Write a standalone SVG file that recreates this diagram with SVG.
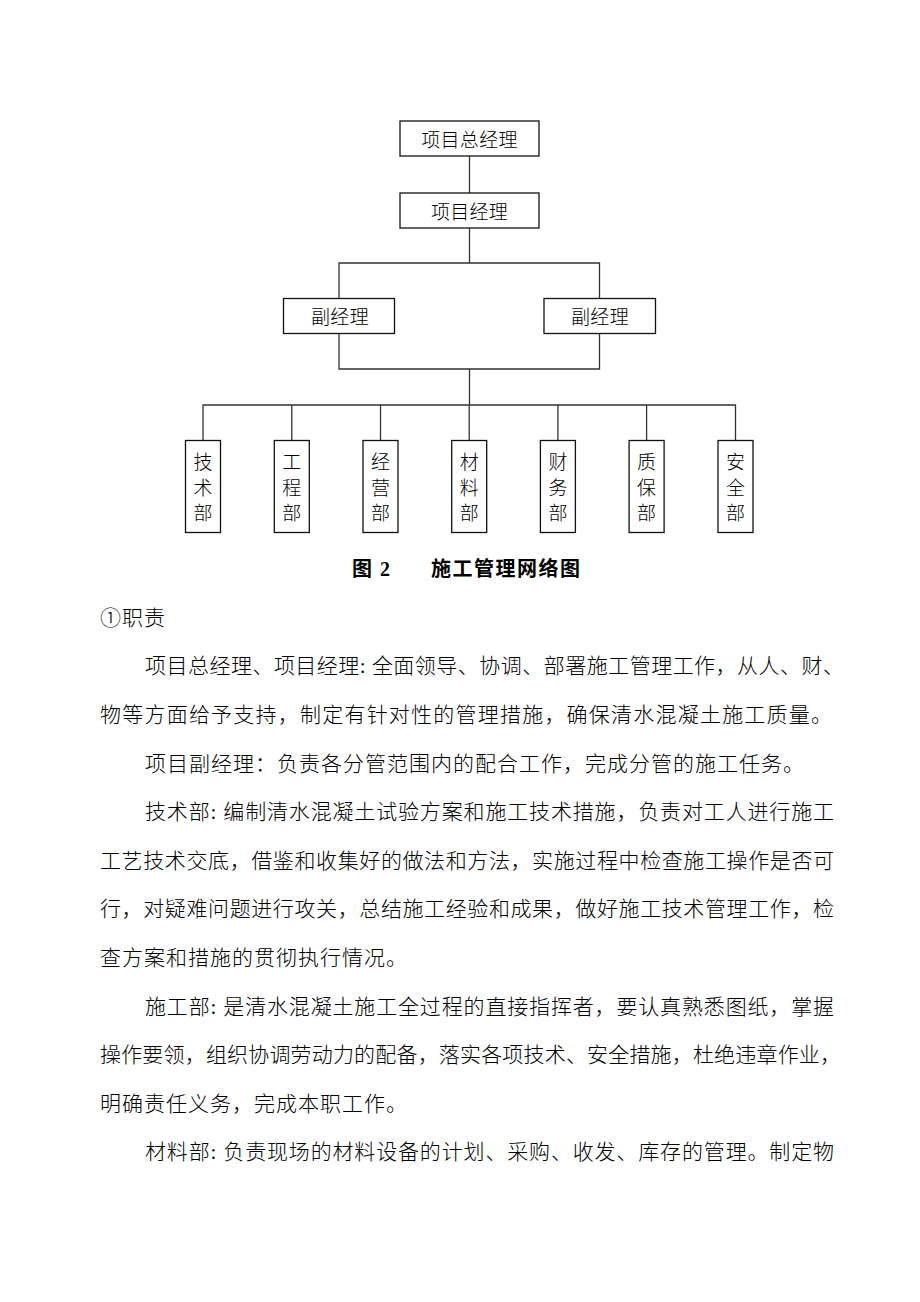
<svg xmlns="http://www.w3.org/2000/svg" width="920" height="1302" viewBox="0 0 920 1302">
<style>
  .bg { fill: #ffffff; }
  .box { fill: #ffffff; stroke: #111111; stroke-width: 1.3; }
  .conn { fill: none; stroke: #333333; stroke-width: 1.3; }
  .lbl { font-family: 'Liberation Serif', 'Noto Sans CJK SC', sans-serif; font-size: 19px; font-weight: 300; fill: #000000; text-anchor: middle; letter-spacing: 0.3px; }
  .dept { font-family: 'Liberation Serif', 'Noto Sans CJK SC', sans-serif; font-size: 19px; font-weight: 300; fill: #000000; text-anchor: middle; }
  .cap { font-family: 'Liberation Serif', 'Noto Sans CJK SC', sans-serif; font-size: 20px; font-weight: bold; fill: #000000; letter-spacing: 1.5px; }
  .body { font-family: 'Liberation Serif', 'Noto Sans CJK SC', sans-serif; font-size: 21px; font-weight: 300; fill: #000000; letter-spacing: 1px; }
</style>
<rect class="bg" x="0" y="0" width="920" height="1302"/>

<g id="connectors">
  <path class="conn" d="M469.5,156 V193"/>
  <path class="conn" d="M469.5,228 V263"/>
  <path class="conn" d="M339,298.5 V263 H599.5 V298.5"/>
  <path class="conn" d="M339,333.5 V369 H599.5 V333.5"/>
  <path class="conn" d="M469.5,369 V405"/>
  <path class="conn" d="M203,440.5 V405 H735.5 V440.5"/>
  <path class="conn" d="M291.8,405 V440.5"/>
  <path class="conn" d="M380.5,405 V440.5"/>
  <path class="conn" d="M469.2,405 V440.5"/>
  <path class="conn" d="M557.9,405 V440.5"/>
  <path class="conn" d="M646.6,405 V440.5"/>
</g>

<g id="node-gm">
  <rect class="box" x="400" y="121" width="139" height="35"/>
  <text class="lbl" x="469.5" y="147">项目总经理</text>
</g>
<g id="node-pm">
  <rect class="box" x="400" y="193" width="139" height="35"/>
  <text class="lbl" x="469.5" y="219">项目经理</text>
</g>
<g id="node-deputy-left">
  <rect class="box" x="283.5" y="298.5" width="111" height="35"/>
  <text class="lbl" x="340" y="324">副经理</text>
</g>
<g id="node-deputy-right">
  <rect class="box" x="544" y="298.5" width="111.5" height="35"/>
  <text class="lbl" x="600" y="324">副经理</text>
</g>

<g id="node-tech">
  <rect class="box" x="185.5" y="440.5" width="35" height="92"/>
  <text class="dept" x="203" y="469">技</text>
  <text class="dept" x="203" y="495">术</text>
  <text class="dept" x="203" y="520">部</text>
</g>
<g id="node-eng">
  <rect class="box" x="274.3" y="440.5" width="35" height="92"/>
  <text class="dept" x="291.8" y="469">工</text>
  <text class="dept" x="291.8" y="495">程</text>
  <text class="dept" x="291.8" y="520">部</text>
</g>
<g id="node-biz">
  <rect class="box" x="363" y="440.5" width="35" height="92"/>
  <text class="dept" x="380.5" y="469">经</text>
  <text class="dept" x="380.5" y="495">营</text>
  <text class="dept" x="380.5" y="520">部</text>
</g>
<g id="node-mat">
  <rect class="box" x="451.7" y="440.5" width="35" height="92"/>
  <text class="dept" x="469.2" y="469">材</text>
  <text class="dept" x="469.2" y="495">料</text>
  <text class="dept" x="469.2" y="520">部</text>
</g>
<g id="node-fin">
  <rect class="box" x="540.4" y="440.5" width="35" height="92"/>
  <text class="dept" x="557.9" y="469">财</text>
  <text class="dept" x="557.9" y="495">务</text>
  <text class="dept" x="557.9" y="520">部</text>
</g>
<g id="node-qa">
  <rect class="box" x="629.1" y="440.5" width="35" height="92"/>
  <text class="dept" x="646.6" y="469">质</text>
  <text class="dept" x="646.6" y="495">保</text>
  <text class="dept" x="646.6" y="520">部</text>
</g>
<g id="node-safety">
  <rect class="box" x="718" y="440.5" width="35" height="92"/>
  <text class="dept" x="735.5" y="469">安</text>
  <text class="dept" x="735.5" y="495">全</text>
  <text class="dept" x="735.5" y="520">部</text>
</g>

<g id="caption">
  <text class="cap" y="575.5"><tspan x="352">图 2</tspan><tspan x="431">施工管理网络图</tspan></text>
</g>

<g id="body-text">
  <text class="body" x="100" y="624.7">①职责</text>
  <text class="body" x="145" y="673.3" textLength="700" lengthAdjust="spacing">项目总经理、项目经理: 全面领导、协调、部署施工管理工作，从人、财、</text>
  <text class="body" x="100" y="721.9" textLength="733" lengthAdjust="spacing">物等方面给予支持，制定有针对性的管理措施，确保清水混凝土施工质量。</text>
  <text class="body" x="145" y="770.5" letter-spacing="0.8">项目副经理：负责各分管范围内的配合工作，完成分管的施工任务。</text>
  <text class="body" x="145" y="819.1" textLength="690" lengthAdjust="spacing">技术部: 编制清水混凝土试验方案和施工技术措施，负责对工人进行施工</text>
  <text class="body" x="100" y="867.7" textLength="735" lengthAdjust="spacing">工艺技术交底，借鉴和收集好的做法和方法，实施过程中检查施工操作是否可</text>
  <text class="body" x="100" y="916.3" textLength="735" lengthAdjust="spacing">行，对疑难问题进行攻关，总结施工经验和成果，做好施工技术管理工作，检</text>
  <text class="body" x="100" y="964.9">查方案和措施的贯彻执行情况。</text>
  <text class="body" x="145" y="1013.5" textLength="690" lengthAdjust="spacing">施工部: 是清水混凝土施工全过程的直接指挥者，要认真熟悉图纸，掌握</text>
  <text class="body" x="100" y="1062.1" textLength="742" lengthAdjust="spacing">操作要领，组织协调劳动力的配备，落实各项技术、安全措施，杜绝违章作业，</text>
  <text class="body" x="100" y="1110.7">明确责任义务，完成本职工作。</text>
  <text class="body" x="145" y="1159.3" textLength="690" lengthAdjust="spacing">材料部: 负责现场的材料设备的计划、采购、收发、库存的管理。制定物</text>
</g>
</svg>
